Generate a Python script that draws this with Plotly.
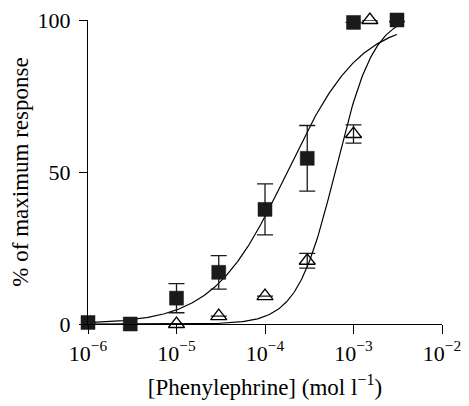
import numpy as np
import plotly.graph_objects as go

# Control (filled squares)
sq_conc = [1e-6, 3e-6, 1e-5, 3e-5, 1e-4, 3e-4, 1e-3, 3.1e-3]
sq_resp = [0.5, 0.0, 8.5, 17.0, 37.7, 54.5, 99.2, 100.0]
sq_err = [0.0, 0.0, 4.8, 5.5, 8.4, 10.8, 0.0, 0.5]

# Treated (open triangles)
tri_conc = [1e-5, 3e-5, 1e-4, 3e-4, 1e-3, 1.53e-3]
tri_resp = [0.0, 2.6, 9.2, 20.8, 62.5, 100.0]
tri_err = [0.0, 0.0, 0.0, 2.4, 3.0, 0.0]

# Hill fits (top, logEC50, slope)
fit_sq = (100.0, -3.75, 1.05)
fit_tri = (102.0, -3.2, 2.0)
fit_logx_start, fit_logx_end = -6.0, -2.51

x_tickvals = [1e-6, 1e-5, 1e-4, 1e-3, 1e-2]
x_ticktext = ["10<sup>−6</sup>", "10<sup>−5</sup>", "10<sup>−4</sup>", "10<sup>−3</sup>", "10<sup>−2</sup>"]
y_tickvals = [0, 50, 100]


def hill(logx, p):
    top, logec, n = p
    return top / (1 + 10 ** (n * (logec - logx)))


lx = np.linspace(fit_logx_start, fit_logx_end, 300)
xs = 10 ** lx

FONT = "Liberation Serif, DejaVu Serif, serif"
fig = go.Figure()
fig.add_trace(go.Scatter(x=xs, y=hill(lx, fit_tri), mode="lines",
                         line=dict(color="black", width=1.2), showlegend=False))
fig.add_trace(go.Scatter(x=xs, y=hill(lx, fit_sq), mode="lines",
                         line=dict(color="black", width=1.2), showlegend=False))
fig.add_trace(go.Scatter(
    x=sq_conc, y=sq_resp, mode="markers",
    marker=dict(symbol="square", size=14, color="#1a1a1a",
                line=dict(color="#1a1a1a", width=0.5)),
    error_y=dict(type="data", array=sq_err, visible=True, color="#1a1a1a",
                 thickness=1.3, width=8),
    cliponaxis=False, showlegend=False))
fig.add_trace(go.Scatter(
    x=tri_conc, y=tri_resp, mode="markers",
    marker=dict(symbol="triangle-up-open", size=14, color="black",
                line=dict(color="black", width=1.3)),
    error_y=dict(type="data", array=tri_err, visible=True, color="#1a1a1a",
                 thickness=1.3, width=8),
    cliponaxis=False, showlegend=False))

fig.update_layout(
    width=461, height=398,
    margin=dict(l=80, r=27, t=12, b=82, autoexpand=False),
    plot_bgcolor="white", paper_bgcolor="white",
    font=dict(family=FONT, size=22, color="black"),
)
fig.update_xaxes(
    type="log", range=[-6, -2], tickvals=x_tickvals, ticktext=x_ticktext,
    showline=True, linecolor="black", linewidth=1.3, showgrid=False, zeroline=False,
    ticks="outside", ticklen=9, tickwidth=1.3, tickcolor="black", automargin=False,
    ticklabeloverflow="allow",
    tickfont=dict(family=FONT, size=22),
    title=dict(text="[Phenylephrine] (mol l<sup>−1</sup>)", font=dict(family=FONT, size=23), standoff=14),
)
fig.update_yaxes(
    range=[0, 100], tickvals=y_tickvals,
    showline=True, linecolor="black", linewidth=1.3, showgrid=False, zeroline=False,
    ticks="outside", ticklen=8, tickwidth=1.3, tickcolor="black", automargin=False,
    ticklabelstandoff=4, ticklabeloverflow="allow",
    tickfont=dict(family=FONT, size=22),
    title=dict(text="% of maximum response", font=dict(family=FONT, size=23), standoff=12),
)

fig.write_html("out.html")
